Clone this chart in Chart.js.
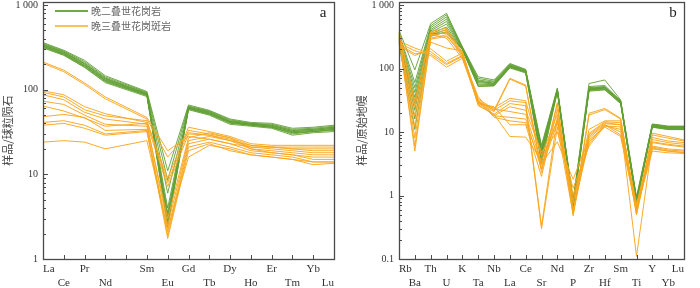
<!DOCTYPE html>
<html><head><meta charset="utf-8">
<script src="https://cdn.jsdelivr.net/npm/chart.js@4.4.1/dist/chart.umd.min.js"></script>
<style>
html,body{margin:0;padding:0;background:#fff;}
#wrap{position:relative;width:700px;height:288px;overflow:hidden;background:#fff;}
.box{position:absolute;top:0;width:350px;height:288px;}
</style></head><body>
<div id="wrap">
<div class="box" style="left:0"><canvas id="c1" width="350" height="288"></canvas></div>
<div class="box" style="left:350px"><canvas id="c2" width="350" height="288"></canvas></div>
</div>
<script>
// ---- categories ----
const reeLabels = ['La','Ce','Pr','Nd','','Sm','Eu','Gd','Tb','Dy','Ho','Er','Tm','Yb','Lu'];
const spiderLabels = ['Rb','Ba','Th','U','K','Ta','Nb','La','Ce','Sr','Nd','P','Zr','Hf','Sm','Ti','Y','Yb','Lu'];
// ---- tick labels ----
const reeTicks = [1, 10, 100, 1000];
const spiderTicks = [0.1, 1, 10, 100, 1000];
// ---- legend / titles ----
const groupNames = ['晚二叠世花岗岩', '晚三叠世花岗斑岩'];
const reeTitle = '样品/球粒陨石';
const spiderTitle = '样品/原始地幔';
// ---- chondrite-normalised REE (a) ----
const reeGreen = [
 [360,292,222,146,null,95,11,66,57,45,41,40,35,36,38],
 [352,286,214,141,null,93,8.5,64,56,44,40,39,34,35,37],
 [344,280,207,137,null,91,6,63,55,43,40,38,33,34,36],
 [337,274,200,133,null,89,4,62,54,42,39,37,32,33,35],
 [330,268,195,130,null,88,3.5,61,53,42,39,37,32,33,35],
 [323,263,190,127,null,86,3,60,52,41,38,36,31,32,34],
 [317,258,186,124,null,85,2.8,59,51,40,38,36,30,32,33],
 [312,254,183,121,null,83,2.6,58,50,39,37,35,29,31,32],
 [340,277,203,135,null,90,2.4,62,54,42,39,38,33,34,36],
 [326,265,193,128,null,87,3.2,60,52,41,38,36,31,32,34]
];
const reeOrange = [
 [212,170,120,82,null,47,19,28,26,23,21,21,20,20,20],
 [205,163,115,78,null,45,16,31,29,25,22,21,21,21,21],
 [97,87,63,52,null,41,9,36,32,28,23,22,22,22,22],
 [93,82,58,49,null,43,8,33,30,27,22,21,20,19,19],
 [87,76,54,45,null,39,7.2,30,29,26,21,20,19,18,18],
 [73,67,50,39,null,37,3,27,31,27,20,19,18,17,17],
 [64,56,46,37,null,40,2.5,25,28,25,20,18,17,16,16],
 [48,51,47,33,null,34,2.1,23,26,23,19,18,17,15,15],
 [41,43,38,30,null,33,1.9,21,24,21,18,17,16,14,14],
 [38,40,35,29,null,32,1.75,19,23,19,17,16,15,13,13.5],
 [24,25,24,20,null,25,2.3,16,22,20,17,16,15,14,14]
];
// ---- primitive-mantle-normalised trace elements (b) ----
const spiderGreen = [
 [400,95,510,740,220,74,66,120,97,6.2,49,0.85,58,66,32,0.95,13.4,12.4,12.4],
 [370,60,470,700,218,70,63,117,95,5.8,48,0.8,52,54,31,0.9,13.2,12.2,12.2],
 [345,50,440,650,215,66,61,114,93,5.4,47,0.78,50,52,31,0.88,13,12,12],
 [320,42,410,600,212,62,59,112,92,5,46,0.75,49,51,30,0.85,12.8,11.8,11.8],
 [300,35,390,550,208,60,57,110,91,4.7,45,0.72,48,50,30,0.82,12.6,11.6,11.6],
 [285,28,370,500,205,57,56,108,90,4.4,45,0.7,47,49,29,0.8,12.4,11.4,11.4],
 [270,22,350,450,202,55,55,106,88,4,44,0.68,46,48,29,0.78,12.2,11.2,11.2],
 [255,16,335,410,200,53,54,104,87,3.6,44,0.66,45,47,28,0.77,12,11,11],
 [240,11,320,380,198,52,53,102,85,3.2,43,0.64,44,46,28,0.76,11.9,10.9,10.9],
 [260,30,360,360,204,64,58,111,91,4.8,46,0.74,47,50,30,0.84,12.6,11.5,11.6]
];
const spiderOrange = [
 [380,30,380,430,180,30,22,70,55,2.6,29,0.52,19.7,23.5,16.4,0.55,9.6,8.5,7.5],
 [360,25,360,400,172,28,21,68,53,2.3,28,0.48,18.5,22.5,16,0.5,9,8,7.2],
 [330,8,330,370,165,29,24,34,31,4.2,19,0.75,11,15,15,0.7,8.2,7.2,6.8],
 [310,5,300,340,155,31,22,31,29,0.33,17,0.55,9.5,14.5,14,0.6,7.6,6.8,6.4],
 [290,6,290,320,170,27,19,28,26,0.3,12,0.5,9,14,13,0.11,6.8,6.2,5.8],
 [270,210,170,115,155,36,18,25,22,4.8,10,1.3,6,12.5,11,0.65,6,5.4,5.2],
 [250,190,160,105,145,33,23,21,19,3.2,7,1.8,8,13,10,0.75,5.4,5,4.8],
 [240,170,185,120,160,30,18,17,16,2.6,14,0.85,6.5,13,9,0.55,5.8,5.2,5],
 [230,160,205,130,175,32,17,15,14,3,16,0.6,7,12.5,12,0.6,5,4.7,4.6],
 [340,12,350,300,145,28,25,13,13,2,23,0.58,8.5,13.5,13,0.5,7,6.4,6],
 [300,18,260,210,190,26,19,8.5,8.3,3.6,15,1.0,7.5,12,8.5,0.62,5.6,5,4.7]
];

const GREEN = 'rgba(98,160,52,0.9)';
const ORANGE = 'rgba(249,166,32,0.95)';
const FRAME = '#4a4a4a';
const SERIF = '"Liberation Serif","Times New Roman",serif';
const CJK = '"Noto Sans CJK SC","Noto Sans",sans-serif';

function makeSets(green, orange) {
  const sets = [];
  green.forEach((d, i) => sets.push({label: groupNames[0] + ' ' + (i+1), data: d, borderColor: GREEN, borderWidth: 1, order: 2}));
  orange.forEach((d, i) => sets.push({label: groupNames[1] + ' ' + (i+1), data: d, borderColor: ORANGE, borderWidth: 1, order: 1}));
  return sets;
}

const framePlugin = {
  id: 'frame',
  afterDraw(chart, args, opts) {
    const {ctx, chartArea: a} = chart;
    const ys = chart.scales.y, xs = chart.scales.x;
    ctx.save();
    ctx.strokeStyle = FRAME;
    ctx.lineWidth = 1;
    const lo = Math.round(Math.log10(ys.min)), hi = Math.floor(Math.log10(ys.max));
    ctx.beginPath();
    for (let d = lo; d <= hi; d++) {
      for (let k = 1; k <= 9; k++) {
        const v = k * Math.pow(10, d);
        if (v < ys.min * 0.999 || v > ys.max) continue;
        const py = Math.round(ys.getPixelForValue(v)) + 0.5;
        const len = k === 1 ? 5 : 3;
        ctx.moveTo(a.left, py); ctx.lineTo(a.left + len, py);
      }
    }
    for (let i = 0; i < chart.data.labels.length; i++) {
      const px = Math.round(xs.getPixelForValue(i)) + 0.5;
      ctx.moveTo(px, a.bottom); ctx.lineTo(px, a.bottom - 4);
    }
    ctx.stroke();
    ctx.lineWidth = 1.3;
    ctx.strokeRect(Math.round(a.left) + 0.5, Math.round(a.top) + 0.5, Math.round(a.right - a.left), Math.round(a.bottom - a.top));
    ctx.fillStyle = '#222';
    ctx.font = '15px ' + SERIF;
    ctx.textAlign = 'center';
    ctx.textBaseline = 'middle';
    ctx.fillText(opts.letter, a.right - 11, 13);
    if (opts.legend) {
      const rows = [[GREEN, 11], [ORANGE, 26]];
      rows.forEach((r, i) => {
        ctx.strokeStyle = r[0];
        ctx.lineWidth = i === 0 ? 1.8 : 1.3;
        ctx.beginPath(); ctx.moveTo(55, r[1]); ctx.lineTo(88, r[1]); ctx.stroke();
        ctx.fillStyle = '#666';
        ctx.font = '10px ' + CJK;
        ctx.textAlign = 'left';
        ctx.fillText(groupNames[i], 91, r[1]);
      });
    }
    ctx.restore();
  }
};

function makeChart(id, labels, green, orange, ticks, minV, maxV, yWidth, title, letter, legend, titlePad) {
  return new Chart(document.getElementById(id), {
    type: 'line',
    data: {labels: labels, datasets: makeSets(green, orange)},
    options: {
      responsive: false,
      animation: false,
      events: [],
      layout: {padding: {left: 0, right: 16, top: 2, bottom: 0}},
      elements: {point: {radius: 0}, line: {tension: 0}},
      spanGaps: true,
      plugins: {legend: {display: false}, tooltip: {enabled: false}, frame: {letter: letter, legend: legend}},
      scales: {
        x: {
          type: 'category',
          offset: false,
          grid: {display: false, drawTicks: false},
          border: {display: false},
          ticks: {
            autoSkip: false, maxRotation: 0, minRotation: 0, padding: 4, align: 'inner',
            color: '#333', font: {family: SERIF, size: 11},
            callback: function (v, i) {
              const all = this.chart.data.labels;
              const l = all[i];
              if (!l) return '';
              let n = 0;
              for (let j = 0; j < i; j++) if (all[j]) n++;
              return n % 2 === 0 ? [l] : ['', l];
            }
          },
          afterFit: s => { s.height = 29; s.paddingLeft = 0; s.paddingRight = 0; }
        },
        y: {
          type: 'logarithmic',
          min: minV, max: maxV,
          grid: {display: false, drawTicks: false},
          border: {display: false},
          title: {display: true, text: title, color: '#444', font: {family: CJK, size: 11}, padding: {top: titlePad, bottom: 0}},
          ticks: {
            padding: 5, color: '#333', font: {family: SERIF, size: 10},
            callback: v => v >= 1000 ? String(v).replace(/(\d)(?=(\d{3})+$)/g, '$1 ') : String(v)
          },
          afterBuildTicks: s => { s.ticks = ticks.map(v => ({value: v, major: true})); },
          afterFit: s => { s.width = yWidth; s.paddingTop = 0; s.paddingBottom = 0; }
        }
      }
    },
    plugins: [framePlugin]
  });
}

makeChart('c1', reeLabels, reeGreen, reeOrange, reeTicks, 1, 1085, 43, reeTitle, 'a', true, 1);
makeChart('c2', spiderLabels, spiderGreen, spiderOrange, spiderTicks, 0.1, 1115, 49, spiderTitle, 'b', false, 5);
</script>
</body></html>
